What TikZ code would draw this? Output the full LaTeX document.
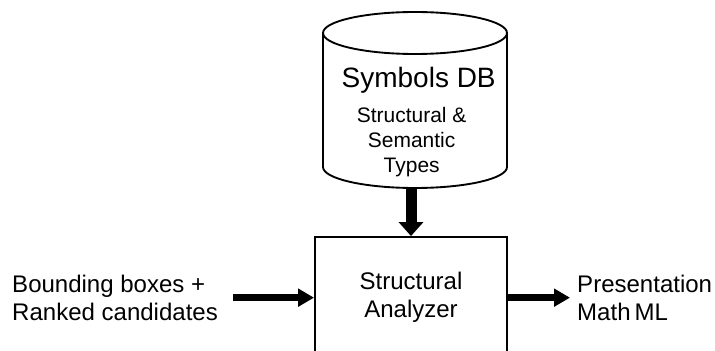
\documentclass[tikz,border=0pt]{standalone}
\usepackage{fontspec}
\setmainfont{Liberation Sans}
\usetikzlibrary{arrows.meta, shapes.geometric, positioning}
\definecolor{ink}{RGB}{0,0,0}
\tikzset{
  % Analyzer box
  BX/.style={rectangle,draw=ink,fill=white,text width=#1,align=center,
             minimum height=3.64cm,line width=1.6pt,inner sep=0pt,
             font=\fontsize{20.5}{23.9}\selectfont},
  BX/.default=5.76cm,
  % Database cylinder outline
  DBC/.style={draw=ink,fill=white,line width=1.6pt},
  % Plain text labels
  LBL/.style={align=left,inner sep=0pt,font=\fontsize{20.5}{23.9}\selectfont},
  % Arrows
  Arr/.style ={-{Triangle[length=0.48cm,width=0.52cm]},line width=0.21cm,color=ink},
  TArr/.style={-{Triangle[length=0.42cm,width=0.72cm]},line width=0.33cm,color=ink},
}
\begin{document}
\begin{tikzpicture}
      \useasboundingbox (0,0) rectangle (21.45,10.5);
      \clip (0,0) rectangle (21.45,10.5);
      % database drum
      \draw[DBC] (9.69,9.51) -- (9.69,5.49)
            arc[start angle=180,end angle=360,x radius=2.76,y radius=0.63]
            -- (15.21,9.51);
      \draw[DBC] (12.45,9.51) ellipse[x radius=2.76,y radius=0.63];
      \coordinate (db) at (12.45,4.86);
      \node[font=\fontsize{23.9}{23.9}\selectfont,anchor=base] at (12.56,7.86) (dbname)
            {Symbols DB};
      \node[align=center,inner sep=0pt,font=\fontsize{17.9}{21.3}\selectfont]
            at (12.35,6.225) (dbtypes)
            {Structural \&\\Semantic\\Types};
      \node[BX] at (12.33,1.57) (sa)
            {Structural\\Analyzer};
      \node[LBL,anchor=west] at (0.36,1.57) (inp)
            {Bounding boxes +\\Ranked candidates};
      \node[LBL,anchor=west] at (17.31,1.57) (outp)
            {Presentation\\Math\,ML};
      \draw[TArr] (db -| sa.north) -- (sa.north);
      \draw[Arr] ([xshift=0.45cm]inp.east) -- (sa.west);
      \draw[Arr] (sa.east) -- ([xshift=-0.21cm]outp.west);
\end{tikzpicture}
\end{document}
